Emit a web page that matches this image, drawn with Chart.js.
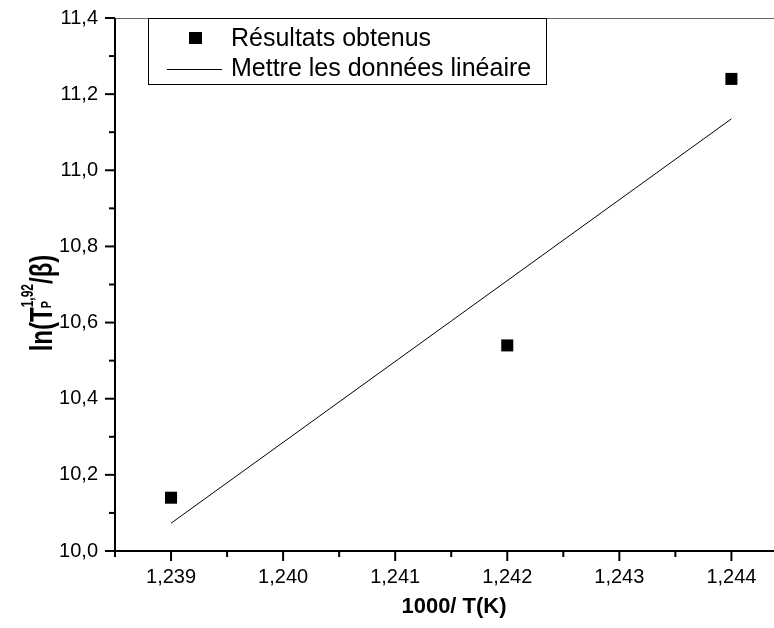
<!DOCTYPE html>
<html>
<head>
<meta charset="utf-8">
<script src="https://cdn.jsdelivr.net/npm/chart.js@4"></script>
<style>
  html, body { margin: 0; padding: 0; background: #fff; overflow: hidden; }
  #wrap { width: 774px; height: 628px; }
</style>
</head>
<body>
<div id="wrap"><canvas id="arrhenius"></canvas></div>
<script>
// data
const xPoints = [1.239, 1.242, 1.244];
const yPoints = [10.14, 10.54, 11.24];
const fitX = [1.239, 1.244];
const fitY = [10.073, 11.135];
const xTicks = [1.239, 1.240, 1.241, 1.242, 1.243, 1.244];
const yTicks = [10.0, 10.2, 10.4, 10.6, 10.8, 11.0, 11.2, 11.4];
const legendLabels = ["Résultats obtenus", "Mettre les données linéaire"];

const FONT = "'Liberation Sans', Arial, sans-serif";
const comma = (v, d) => v.toFixed(d).replace(".", ",");

// axes, minor ticks, titles and legend box
const frame = {
  id: "frame",
  afterDraw(chart) {
    const { ctx, chartArea: a, scales } = chart;
    const xs = scales.x, ys = scales.y;
    ctx.save();
    // top line
    ctx.strokeStyle = "#666";
    ctx.lineWidth = 1;
    ctx.beginPath();
    ctx.moveTo(a.left, a.top + 0.5);
    ctx.lineTo(a.right, a.top + 0.5);
    ctx.stroke();
    // left + bottom axis
    ctx.strokeStyle = "#000";
    ctx.lineWidth = 2;
    ctx.beginPath();
    ctx.moveTo(a.left, a.top);
    ctx.lineTo(a.left, a.bottom);
    ctx.lineTo(a.right, a.bottom);
    ctx.stroke();
    // x ticks (major every 0.001, minor halfway)
    for (let i = 0; i <= 12; i++) {
      const v = 1.2385 + i * 0.0005;
      if (v > xs.max) break;
      const px = xs.getPixelForValue(v);
      const len = i % 2 === 1 ? 10 : 6;
      ctx.beginPath();
      ctx.moveTo(px, a.bottom);
      ctx.lineTo(px, a.bottom + len);
      ctx.stroke();
    }
    // y ticks
    for (let i = 0; i <= 14; i++) {
      const py = ys.getPixelForValue(10 + i * 0.1);
      const len = i % 2 === 0 ? 10 : 6;
      ctx.beginPath();
      ctx.moveTo(a.left, py);
      ctx.lineTo(a.left - len, py);
      ctx.stroke();
    }
    // x title
    ctx.fillStyle = "#000";
    ctx.font = "bold 22px " + FONT;
    ctx.textAlign = "center";
    ctx.textBaseline = "middle";
    ctx.fillText("1000/ T(K)", 454, 607);
    ctx.restore();

    // y title with super/subscript
    ctx.save();
    ctx.fillStyle = "#000";
    ctx.translate(52, 303);
    ctx.rotate(-Math.PI / 2);
    ctx.scale(1, 1.3);
    ctx.textAlign = "left";
    ctx.textBaseline = "alphabetic";
    const big = "bold 24px " + FONT, sup = "bold 12px " + FONT, sub = "bold 11px " + FONT;
    ctx.font = big;
    const w1 = ctx.measureText("ln(T").width;
    const w3 = ctx.measureText("/β)").width;
    ctx.font = sup;
    const w2 = ctx.measureText("1,92").width;
    const x0 = -(w1 + w2 + w3) / 2;
    ctx.font = big;
    ctx.fillText("ln(T", x0, 0);
    ctx.font = sup;
    ctx.fillText("1,92", x0 + w1, -15);
    ctx.font = sub;
    ctx.fillText("P", x0 + w1 - 1, -1);
    ctx.font = big;
    ctx.fillText("/β)", x0 + w1 + w2, 0);
    ctx.restore();

    // legend
    ctx.save();
    ctx.strokeStyle = "#000";
    ctx.lineWidth = 1;
    ctx.fillStyle = "#fff";
    ctx.fillRect(148.5, 18.5, 398, 66);
    ctx.strokeRect(148.5, 18.5, 398, 66);
    ctx.fillStyle = "#000";
    ctx.fillRect(189, 32, 13, 12);
    ctx.beginPath();
    ctx.moveTo(167, 69.5);
    ctx.lineTo(222, 69.5);
    ctx.stroke();
    ctx.font = "25px " + FONT;
    ctx.textBaseline = "middle";
    ctx.fillText(legendLabels[0], 231, 39);
    ctx.fillText(legendLabels[1], 231, 69);
    ctx.restore();
  }
};

new Chart(document.getElementById("arrhenius"), {
  type: "scatter",
  data: {
    datasets: [
      {
        label: legendLabels[0],
        data: xPoints.map((x, i) => ({ x: x, y: yPoints[i] })),
        pointStyle: "rect",
        pointRadius: 8.5,
        backgroundColor: "#000",
        borderWidth: 0,
      },
      {
        label: legendLabels[1],
        data: fitX.map((x, i) => ({ x: x, y: fitY[i] })),
        showLine: true,
        pointRadius: 0,
        borderColor: "#000",
        borderWidth: 1,
      },
    ],
  },
  options: {
    responsive: true,
    maintainAspectRatio: false,
    animation: false,
    layout: { autoPadding: false, padding: { top: 18, right: 0, left: 0, bottom: 0 } },
    plugins: { legend: { display: false }, tooltip: { enabled: false } },
    scales: {
      x: {
        type: "linear",
        min: 1.2385,
        max: 1.24438,
        afterBuildTicks: (s) => { s.ticks = xTicks.map((v) => ({ value: v })); },
        afterFit: (s) => { s.height = 77; s.paddingLeft = 0; s.paddingRight = 0; },
        grid: { display: false, drawTicks: false },
        border: { display: false },
        ticks: {
          padding: 14,
          color: "#000",
          font: { family: FONT, size: 20 },
          callback: (v) => comma(v, 3),
          maxRotation: 0,
        },
      },
      y: {
        min: 10.0,
        max: 11.4,
        afterBuildTicks: (s) => { s.ticks = yTicks.map((v) => ({ value: v })); },
        afterFit: (s) => { s.width = 115; s.paddingTop = 0; s.paddingBottom = 0; },
        grid: { display: false, drawTicks: false },
        border: { display: false },
        ticks: {
          padding: 17,
          color: "#000",
          font: { family: FONT, size: 20 },
          callback: (v) => comma(v, 1),
        },
      },
    },
  },
  plugins: [frame],
});
</script>
</body>
</html>
